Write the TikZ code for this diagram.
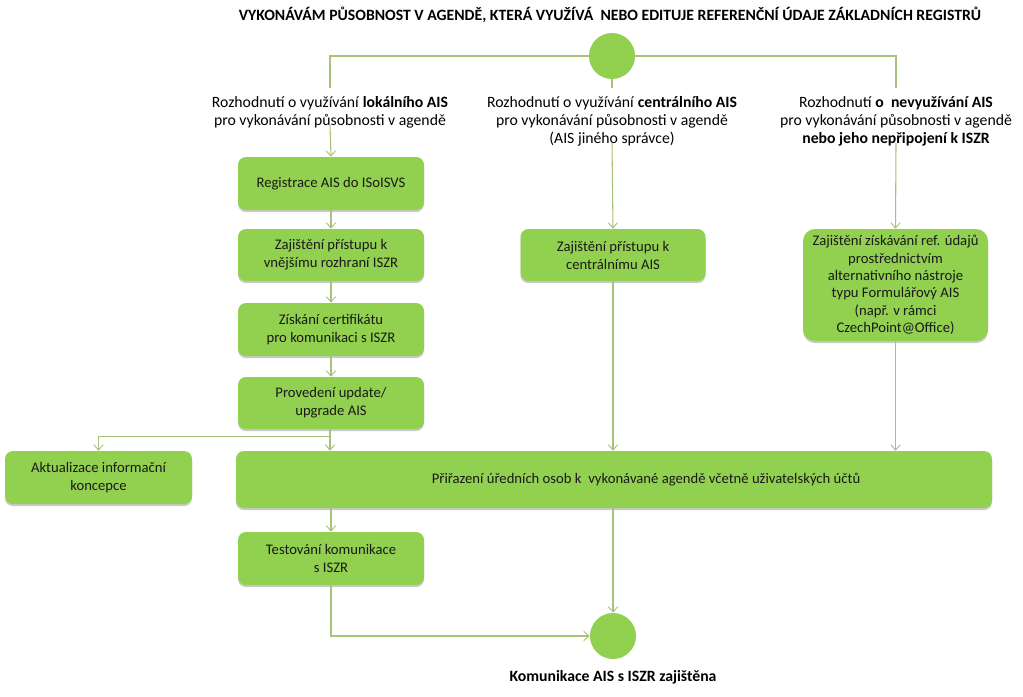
\documentclass[tikz,border=0pt]{standalone}
\usepackage{fontspec}
\setmainfont{Carlito}
\usetikzlibrary{arrows.meta,shadows,calc}
\definecolor{boxgreen}{HTML}{92D050}
\definecolor{linegreen}{HTML}{A9C27A}
\definecolor{boxtext}{HTML}{1A1A1A}
\tikzset{
  px/.style={x=0.75pt,y=-0.75pt},
  stepbox/.style={rectangle, rounded corners=6pt, fill=boxgreen, draw=none,
    text=boxtext, align=center, font=\fontsize{11pt}{13.5pt}\selectfont,
    inner sep=2pt,
    drop shadow={shadow xshift=0pt, shadow yshift=-1.6pt, opacity=0.35, fill=black!60}},
  dot/.style={circle, fill=boxgreen, draw=none, minimum size=34.5pt, inner sep=0pt},
  lbl/.style={align=center, font=\fontsize{11.8pt}{13.6pt}\selectfont, inner sep=0pt},
  conn/.style={draw=linegreen, line width=0.8pt},
  arr/.style={conn, -{Straight Barb[length=4pt,width=7pt,line width=0.7pt]}},
}
\begin{document}
\begin{tikzpicture}[px]
\useasboundingbox (0,0) rectangle (1023,696);
\fill[white] (0,0) rectangle (1023,696);

% title
\node[lbl, font=\bfseries\fontsize{11.8pt}{13.6pt}\selectfont] (title) at (610,15)
  {VYKONÁVÁM PŮSOBNOST V AGENDĚ, KTERÁ VYUŽÍVÁ\ \ NEBO EDITUJE REFERENČNÍ ÚDAJE ZÁKLADNÍCH REGISTRŮ};

% decision labels
\node[lbl] (L) at (330,112) {Rozhodnutí o využívání \textbf{lokálního AIS}\\pro vykonávání působnosti v agendě};
\node[lbl] (C) at (612,121) {Rozhodnutí o využívání \textbf{centrálního AIS}\\pro vykonávání působnosti v agendě\\(AIS jiného správce)};
\node[lbl] (R) at (896,121) {Rozhodnutí \textbf{o\ \ nevyužívání AIS}\\pro vykonávání působnosti v agendě\\\textbf{nebo jeho nepřipojení k ISZR}};

% top split
\coordinate (jl) at (330,56);
\coordinate (jr) at (896,56);
\coordinate (tl) at (330,88);
\coordinate (tc) at (612,88);
\coordinate (tr) at (896,88);
\draw[conn] (tl) -- (jl) -- (jr) -- (tr);
\node[dot] (s) at (612,56) {};
\draw[conn] (s.south) -- (tc);

% left column
\node[stepbox, minimum width=139.5pt, minimum height=39.75pt] (b1) at (331,183.5) {Registrace AIS do ISoISVS};
\node[stepbox, minimum width=139.5pt, minimum height=39pt] (b2) at (331,255) {Zajištění přístupu k\\vnějšímu rozhraní ISZR};
\node[stepbox, minimum width=139.5pt, minimum height=39.75pt] (b3) at (331,329.5) {Získání certifikátu\\pro komunikaci s ISZR};
\node[stepbox, minimum width=139.5pt, minimum height=39pt] (b4) at (331,403) {Provedení update/\\upgrade AIS};

% centre and right
\node[stepbox, minimum width=138.75pt, minimum height=39pt] (c1) at (613,255) {Zajištění přístupu k\\centrálnímu AIS};
\node[stepbox, minimum width=138.75pt, minimum height=84pt, rounded corners=9pt,
  font=\fontsize{11pt}{13pt}\selectfont] (r1) at (895.5,285)
  {Zajištění získávání ref. údajů\\prostřednictvím\\alternativního nástroje\\typu Formulářový AIS\\(např. v rámci\\CzechPoint@Office)};

% lower row
\node[stepbox, minimum width=140.25pt, minimum height=39.75pt] (a1) at (98.5,477.5) {Aktualizace informační\\koncepce};
\node[stepbox, minimum width=567pt, minimum height=42.75pt] (p) at (614,479.5)
  {\hspace*{48pt}Přiřazení úředních osob k\ \ vykonávané agendě včetně uživatelských účtů};
\node[stepbox, minimum width=139.5pt, minimum height=39.75pt] (t) at (331,558.5) {Testování komunikace\\s ISZR};

% end
\node[dot] (e) at (613,636) {};
\node[lbl, font=\bfseries\fontsize{11.8pt}{13.6pt}\selectfont] (fin) at (613,677) {Komunikace AIS s ISZR zajištěna};

% connectors
\draw[arr] (L.south) ++(0,-3) -- (b1.north);
\draw[arr] (C.south) ++(0,-3) -- (c1.north);
\draw[arr] (R.south) ++(0,-3) -- (r1.north);
\draw[arr] (b1.south) -- (b2.north);
\draw[arr] (b2.south) -- (b3.north);
\draw[arr] (b3.south) -- (b4.north);
\coordinate (jb) at ($(b4.south)+(-1,7)$);
\draw[arr] (jb) -- (jb |- p.north);
\draw[conn] ($(b4.south)+(-1,0)$) -- (jb);
\draw[arr] (jb) -| (a1.north);
\draw[arr] (c1.south) -- (c1.south |- p.north);
\draw[arr] (r1.south) -- (r1.south |- p.north);
\draw[arr] (t.north |- p.south) -- (t.north);
\draw[arr] (e.north |- p.south) -- (e.north);
\draw[arr] (t.south) |- (e.west);
\end{tikzpicture}
\end{document}
